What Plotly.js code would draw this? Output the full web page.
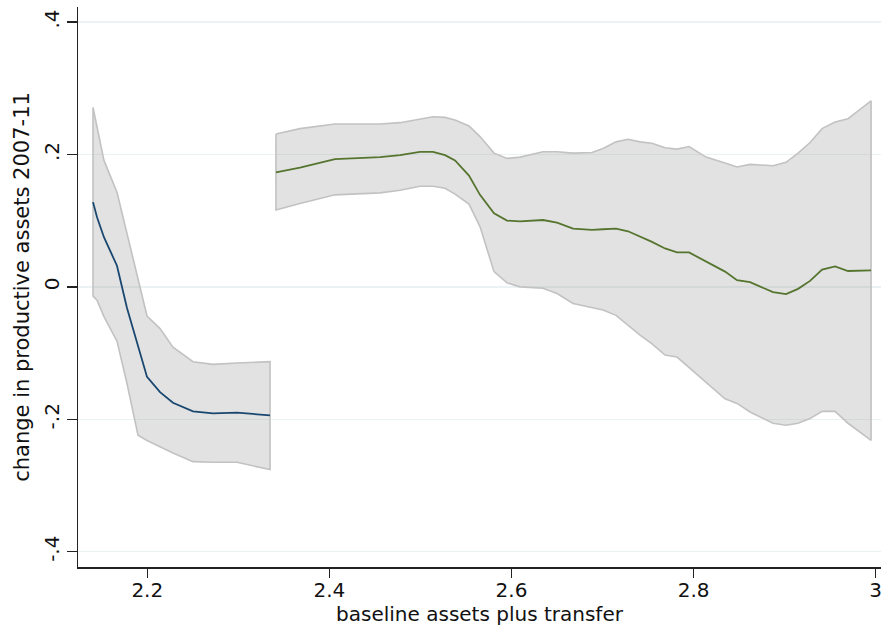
<!DOCTYPE html>
<html>
<head>
<meta charset="utf-8">
<script src="https://cdn.plot.ly/plotly-3.0.1.min.js"></script>
<style>
  html, body { margin: 0; padding: 0; background: #fff; }
  #chart { width: 881px; height: 632px; }
</style>
</head>
<body>
<div id="chart"></div>
<script>
// Local-polynomial fit, lower baseline segment
const lowX = [2.1404, 2.1448, 2.1524, 2.1667, 2.1777, 2.1898, 2.1997, 2.2140, 2.2282, 2.2502, 2.2722, 2.2985, 2.3348];
const lowFit = [0.128, 0.105, 0.075, 0.032, -0.032, -0.090, -0.136, -0.159, -0.175, -0.188, -0.191, -0.190, -0.194];
const lowUpper = [0.271, 0.240, 0.191, 0.143, 0.081, 0.010, -0.044, -0.063, -0.091, -0.113, -0.117, -0.115, -0.113];
const lowLower = [-0.014, -0.020, -0.045, -0.082, -0.146, -0.224, -0.232, -0.242, -0.251, -0.264, -0.265, -0.265, -0.276];

// Local-polynomial fit, upper baseline segment
const highX = [2.3413, 2.3677, 2.4061, 2.4556, 2.4776, 2.4995, 2.5138, 2.5270, 2.5380, 2.5533,
  2.5654, 2.5808, 2.5951, 2.6094, 2.6346, 2.6500, 2.6676, 2.6884, 2.7005, 2.7148,
  2.7280, 2.7412, 2.7543, 2.7686, 2.7818, 2.7950, 2.8137, 2.8345, 2.8477, 2.8620,
  2.8872, 2.9015, 2.9147, 2.9279, 2.9411, 2.9554, 2.9696, 2.9828, 2.9949];
const highFit = [0.173, 0.180, 0.193, 0.196, 0.199, 0.204, 0.204, 0.199, 0.191, 0.168,
  0.139, 0.111, 0.100, 0.099, 0.101, 0.097, 0.088, 0.086, 0.087, 0.088,
  0.084, 0.076, 0.068, 0.058, 0.052, 0.052, 0.038, 0.023, 0.010, 0.007,
  -0.008, -0.011, -0.003, 0.009, 0.026, 0.031, 0.024, 0.025, 0.025];
const highUpper = [0.231, 0.239, 0.246, 0.246, 0.248, 0.253, 0.257, 0.256, 0.252, 0.243,
  0.227, 0.202, 0.194, 0.196, 0.204, 0.204, 0.202, 0.203, 0.209, 0.219,
  0.223, 0.219, 0.217, 0.210, 0.208, 0.212, 0.196, 0.187, 0.181, 0.185,
  0.183, 0.188, 0.202, 0.218, 0.239, 0.249, 0.254, 0.268, 0.281];
const highLower = [0.116, 0.126, 0.139, 0.142, 0.146, 0.152, 0.152, 0.149, 0.140, 0.125,
  0.091, 0.023, 0.006, 0.000, -0.002, -0.010, -0.025, -0.031, -0.035, -0.043,
  -0.058, -0.073, -0.086, -0.103, -0.106, -0.121, -0.144, -0.169, -0.176, -0.189,
  -0.206, -0.209, -0.206, -0.199, -0.188, -0.188, -0.206, -0.219, -0.232];

const xTicks = [2.2, 2.4, 2.6, 2.8, 3];
const xTickText = ['2.2', '2.4', '2.6', '2.8', '3'];
const yTicks = [-0.4, -0.2, 0, 0.2, 0.4];
const yTickText = ['-.4', '-.2', '0', '.2', '.4'];

const bandFill = 'rgba(160,160,160,0.3)';
const bandLine = '#c2c2c2';

// closed polygon: upper edge left-to-right, lower edge back right-to-left
function band(x, up, lo) {
  return {
    x: x.concat(x.slice().reverse(), [x[0]]),
    y: up.concat(lo.slice().reverse(), [up[0]]),
    type: 'scatter', mode: 'lines', fill: 'toself',
    fillcolor: bandFill,
    line: { color: bandLine, width: 1.6 },
    hoverinfo: 'skip', showlegend: false
  };
}

function fitLine(x, y, color) {
  return {
    x: x, y: y, type: 'scatter', mode: 'lines',
    line: { color: color, width: 1.8 },
    showlegend: false
  };
}

const traces = [
  band(lowX, lowUpper, lowLower),
  band(highX, highUpper, highLower),
  fitLine(lowX, lowFit, '#1a476f'),
  fitLine(highX, highFit, '#55752f')
];

const font = 'DejaVu Sans, sans-serif';

const layout = {
  width: 881, height: 632,
  margin: { l: 78, r: 0, t: 7, b: 65 },
  paper_bgcolor: '#fff', plot_bgcolor: '#fff',
  showlegend: false,
  xaxis: {
    range: [2.1239, 3.0058],
    tickvals: xTicks, ticktext: xTickText,
    ticks: 'outside', ticklen: 9, tickwidth: 1.3, tickcolor: '#222',
    ticklabeloverflow: 'allow',
    ticklabelstandoff: -5,
    showgrid: false, zeroline: false,
    showline: true, linecolor: '#222', linewidth: 1.5,
    tickfont: { family: font, size: 20, color: '#111' },
    title: { text: 'baseline assets plus transfer', font: { family: font, size: 20, color: '#111' }, standoff: 2 }
  },
  yaxis: {
    range: [-0.4231, 0.4227],
    tickvals: yTicks, ticktext: yTickText,
    tickangle: -90,
    ticks: 'outside', ticklen: 10, tickwidth: 1.3, tickcolor: '#222',
    showgrid: true, gridcolor: '#eaf2f3', gridwidth: 1.5,
    zeroline: false,
    showline: true, linecolor: '#222', linewidth: 1.5,
    tickfont: { family: font, size: 20, color: '#111' },
    title: { text: 'change in productive assets 2007-11', font: { family: font, size: 21, color: '#111' }, standoff: 4 }
  }
};

Plotly.newPlot('chart', traces, layout, { displayModeBar: false, staticPlot: true });
</script>
</body>
</html>
